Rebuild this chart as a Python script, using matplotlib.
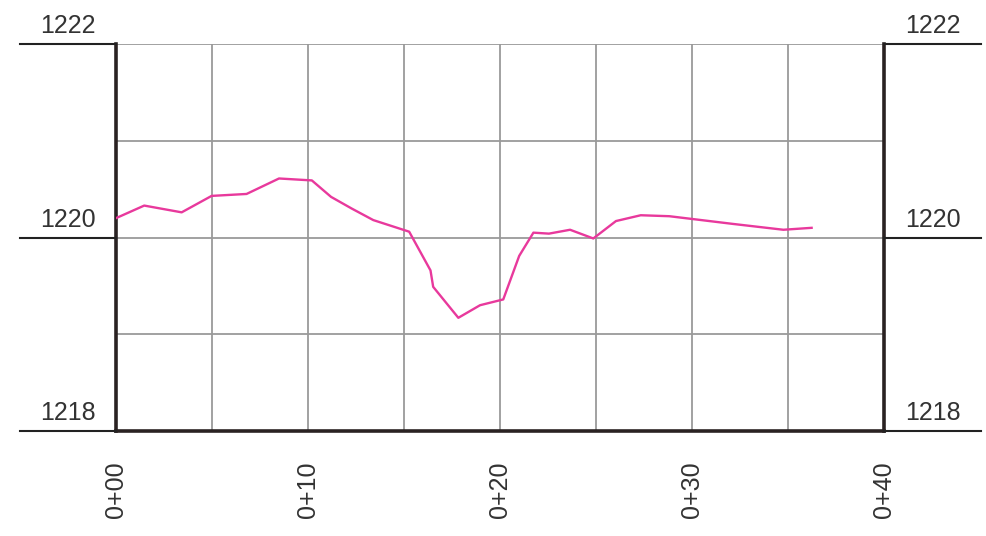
import matplotlib
matplotlib.use("Agg")
import matplotlib.pyplot as plt
import numpy as np

plt.rcParams['font.family'] = ['Liberation Sans', 'DejaVu Sans']

station = [0.0, 1.47, 3.42, 4.98, 6.8, 8.49, 10.2, 11.2, 12.27, 13.4, 15.27,
           16.38, 16.52, 17.83, 18.96, 20.17, 21.0, 21.74, 22.55, 23.65, 24.86,
           26.04, 27.33, 28.82, 32.15, 34.76, 36.23]
elevation = [1220.2, 1220.33, 1220.26, 1220.43, 1220.45, 1220.61, 1220.59, 1220.42,
             1220.30, 1220.18, 1220.06, 1219.66, 1219.49, 1219.17, 1219.30, 1219.36,
             1219.81, 1220.05, 1220.04, 1220.08, 1219.99, 1220.17, 1220.23, 1220.22,
             1220.14, 1220.08, 1220.10]

x_ticks = [0, 10, 20, 30, 40]
x_labels = ["0+00", "0+10", "0+20", "0+30", "0+40"]
y_labeled = [1218, 1220, 1222]
y_labels = ["1218", "1220", "1222"]

fig = plt.figure(figsize=(9.86, 5.36), dpi=100)
ax = fig.add_axes([116/986, 1-431/536, 768/986, 387/536])
ax.set_xlim(0, 40)
ax.set_ylim(1218, 1222)

grid_c = '#9a9a9a'
for gx in np.arange(5, 40, 5):
    ax.axvline(gx, color=grid_c, lw=1.3, zorder=1)
for gy in [1219, 1220, 1221, 1222]:
    ax.axhline(gy, color=grid_c, lw=1.3, zorder=1)

ax.plot(station, elevation, color='#e8399c', lw=1.7, zorder=3)

for s in ['top']:
    ax.spines[s].set_visible(False)
for s in ['left', 'right', 'bottom']:
    ax.spines[s].set_color('#2a2222')
    ax.spines[s].set_linewidth(2.6)

ax.set_yticks([])
ax.set_xticks(x_ticks)
ax.set_xticklabels(x_labels, rotation=90, fontsize=18, color='#333333')
ax.tick_params(axis='x', length=0, pad=22)

ytr = ax.get_yaxis_transform()
for v, lab in zip(y_labeled, y_labels):
    ax.plot([-0.125, 0], [v, v], transform=ytr, color='#222222', lw=1.5, clip_on=False, zorder=4)
    ax.plot([1, 1.126], [v, v], transform=ytr, color='#222222', lw=1.5, clip_on=False, zorder=4)
    ax.annotate(lab, xy=(-0.026, v), xycoords=ytr, xytext=(0, 4), textcoords='offset points',
                ha='right', va='bottom', fontsize=18, color='#333333', annotation_clip=False)
    ax.annotate(lab, xy=(1.027, v), xycoords=ytr, xytext=(0, 4), textcoords='offset points',
                ha='left', va='bottom', fontsize=18, color='#333333', annotation_clip=False)

fig.savefig('out.png', dpi=100)
